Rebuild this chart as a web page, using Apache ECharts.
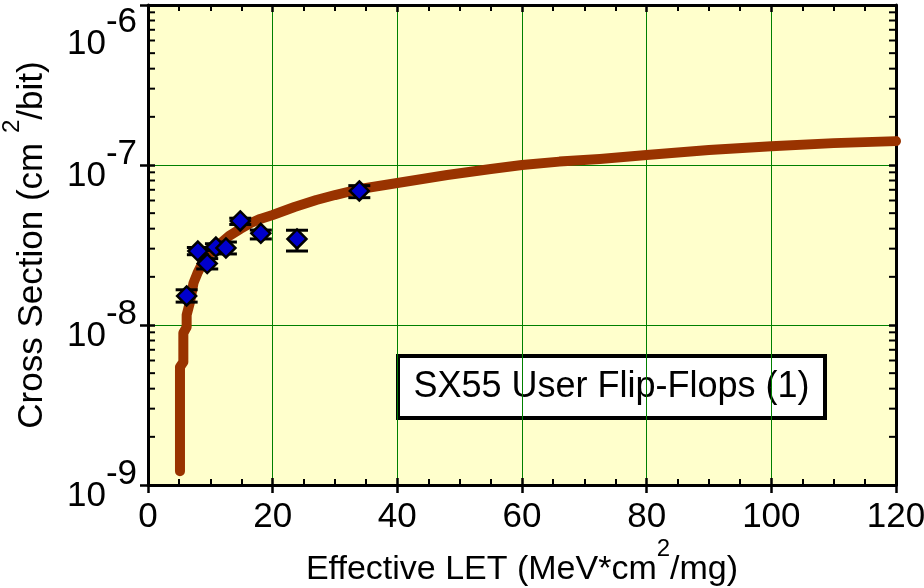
<!DOCTYPE html>
<html>
<head>
<meta charset="utf-8">
<script src="https://cdn.jsdelivr.net/npm/echarts@6/dist/echarts.min.js"></script>
<style>
  html, body { margin: 0; padding: 0; background: #ffffff; }
  #chart { width: 924px; height: 588px; }
</style>
</head>
<body>
<div id="chart"></div>
<script>
// Weibull fit curve (LET in MeV*cm2/mg, cross section in cm2/bit)
const fitLet = [5.13, 5.13, 5.67, 5.67, 6.2, 6.2, 6.7, 7.3, 8.0, 8.9, 10.0, 11.5, 13.0, 14.8, 16.5, 18.0, 20.0, 23.5, 27.0, 30.0, 34.0, 40.0, 48.0, 55.0, 60.0, 66.0, 72.5, 80.0, 90.0, 100.0, 110.0, 120.0];
const fitSigma = [1.22e-9, 5.46e-9, 5.87e-9, 8.91e-9, 9.71e-9, 1.155e-8, 1.372e-8, 1.83e-8, 2.14e-8, 2.51e-8, 2.82e-8, 3.21e-8, 3.60e-8, 3.98e-8, 4.34e-8, 4.60e-8, 4.87e-8, 5.46e-8, 6.04e-8, 6.49e-8, 7.08e-8, 7.72e-8, 8.66e-8, 9.44e-8, 1.0e-7, 1.05e-7, 1.09e-7, 1.155e-7, 1.24e-7, 1.31e-7, 1.37e-7, 1.41e-7];

// Measured points with error bars
const measLet = [6.2, 8.0, 9.5, 10.9, 12.5, 14.8, 18.1, 23.9, 33.9];
const measSigma = [1.52e-8, 2.90e-8, 2.42e-8, 3.07e-8, 3.03e-8, 4.47e-8, 3.74e-8, 3.45e-8, 6.88e-8];
const measLow = [1.39e-8, 2.75e-8, 2.24e-8, 2.92e-8, 2.78e-8, 4.25e-8, 3.45e-8, 2.90e-8, 6.25e-8];
const measHigh = [1.66e-8, 3.05e-8, 2.60e-8, 3.22e-8, 3.30e-8, 4.65e-8, 3.92e-8, 3.91e-8, 7.43e-8];

// Axis settings
const xMin = 0, xMax = 120, xStep = 20;
const yExponents = [-9, -8, -7, -6];
const logMinorSteps = [2, 3, 4, 5, 6, 7, 8, 9];

const FONT = "'Liberation Sans', Arial, sans-serif";
const yMin = Math.pow(10, yExponents[0]);
const yMax = Math.pow(10, yExponents[yExponents.length - 1]);

// log-axis minor tick values (2..9 per decade)
const minorTickVals = [];
for (let i = 0; i < yExponents.length - 1; i++) {
  for (const m of logMinorSteps) minorTickVals.push([xMin, m * Math.pow(10, yExponents[i])]);
}

const chart = echarts.init(document.getElementById('chart'), null, { renderer: 'canvas' });

const baseX = {
  type: 'value', min: xMin, max: xMax, interval: xStep,
  axisLabel: { show: false }, splitLine: { show: false },
  axisLine: { show: false }, axisTick: { show: false }
};
const baseY = {
  type: 'log', logBase: 10, min: yMin, max: yMax,
  axisLabel: { show: false }, splitLine: { show: false },
  axisLine: { show: false }, axisTick: { show: false }
};

const option = {
  animation: false,
  backgroundColor: '#ffffff',
  textStyle: { fontFamily: FONT },
  grid: {
    left: 148, right: 28, top: 5, bottom: 103,
    outerBoundsMode: 'none', containLabel: false,
    show: true, backgroundColor: '#FFFFCC', borderWidth: 0
  },
  xAxis: [
    Object.assign({}, baseX, {
      position: 'bottom',
      axisLine: { show: true, onZero: false, lineStyle: { color: '#000', width: 3 } },
      axisTick: { show: true, inside: false, length: 8, lineStyle: { color: '#000', width: 2.5 } },
      axisLabel: { show: true, margin: 15, color: '#000', fontSize: 35, fontFamily: FONT },
      splitLine: { show: true, lineStyle: { color: '#008000', width: 1 } },
      name: '{t|Effective LET (MeV*cm}{s|2}{t|/mg)}',
      nameLocation: 'middle', nameGap: 52, nameMoveOverlap: false,
      nameTextStyle: {
        color: '#000', fontFamily: FONT, fontSize: 34,
        rich: {
          t: { fontSize: 34, lineHeight: 50, verticalAlign: 'bottom', color: '#000', fontFamily: FONT },
          s: { fontSize: 24, lineHeight: 50, verticalAlign: 'top', color: '#000', fontFamily: FONT }
        }
      }
    }),
    Object.assign({}, baseX, {
      position: 'bottom',
      axisTick: { show: true, inside: true, length: 7, lineStyle: { color: '#000', width: 2.5 } },
      minorTick: { show: true, splitNumber: 4, length: 6, lineStyle: { color: '#000', width: 2 } }
    }),
    Object.assign({}, baseX, {
      position: 'top',
      axisLine: { show: true, onZero: false, lineStyle: { color: '#000', width: 3 } },
      axisTick: { show: true, inside: true, length: 7, lineStyle: { color: '#000', width: 2.5 } },
      minorTick: { show: true, splitNumber: 4, length: 6, lineStyle: { color: '#000', width: 2 } }
    })
  ],
  yAxis: [
    Object.assign({}, baseY, {
      position: 'left',
      axisLine: { show: true, onZero: false, lineStyle: { color: '#000', width: 3 } },
      axisTick: { show: true, inside: false, length: 8, lineStyle: { color: '#000', width: 2.5 } },
      axisLabel: {
        show: true, margin: 11, color: '#000', fontFamily: FONT,
        formatter: function (v) {
          const e = Math.round(Math.log10(v));
          const body = '{b|10}{s|' + e + '}';
          return e === yExponents[yExponents.length - 1] ? '{g| }\n' + body : body;
        },
        rich: {
          b: { fontSize: 35, lineHeight: 57, verticalAlign: 'bottom', color: '#000', fontFamily: FONT },
          s: { fontSize: 35, lineHeight: 57, verticalAlign: 'top', color: '#000', fontFamily: FONT },
          g: { fontSize: 10, lineHeight: 57 }
        }
      },
      splitLine: { show: true, lineStyle: { color: '#008000', width: 1 } },
      name: '{t|Cross Section (cm }{s|2}{t|/bit)}',
      nameLocation: 'middle', nameRotate: 90, nameGap: 98, nameMoveOverlap: false,
      nameTextStyle: {
        color: '#000', fontFamily: FONT, fontSize: 35,
        rich: {
          t: { fontSize: 35, lineHeight: 50, verticalAlign: 'bottom', color: '#000', fontFamily: FONT },
          s: { fontSize: 24, lineHeight: 50, verticalAlign: 'top', color: '#000', fontFamily: FONT }
        }
      }
    }),
    Object.assign({}, baseY, {
      position: 'left',
      axisTick: { show: true, inside: true, length: 7, lineStyle: { color: '#000', width: 2.5 } }
    }),
    Object.assign({}, baseY, {
      position: 'right',
      axisLine: { show: true, onZero: false, lineStyle: { color: '#000', width: 3 } },
      axisTick: { show: true, inside: true, length: 7, lineStyle: { color: '#000', width: 2.5 } }
    })
  ],
  series: [
    {
      // log minor ticks on left and right frame edges
      type: 'custom', xAxisIndex: 0, yAxisIndex: 0, clip: false, silent: true, z: 1,
      data: minorTickVals,
      renderItem: function (params, api) {
        const pl = api.coord([xMin, api.value(1)]);
        const pr = api.coord([xMax, api.value(1)]);
        const st = { stroke: '#000', lineWidth: 2 };
        return {
          type: 'group', children: [
            { type: 'line', shape: { x1: pl[0], y1: pl[1], x2: pl[0] + 7, y2: pl[1] }, style: st },
            { type: 'line', shape: { x1: pr[0] - 7, y1: pr[1], x2: pr[0], y2: pr[1] }, style: st }
          ]
        };
      }
    },
    {
      type: 'line', xAxisIndex: 0, yAxisIndex: 0, clip: false, z: 2,
      data: fitLet.map((x, i) => [x, fitSigma[i]]),
      showSymbol: false, symbol: 'none', smooth: false,
      lineStyle: { color: '#993300', width: 10, cap: 'round', join: 'round' }
    },
    {
      type: 'custom', xAxisIndex: 0, yAxisIndex: 0, z: 3,
      data: measLet.map((x, i) => [x, measLow[i], measHigh[i]]),
      renderItem: function (params, api) {
        const lo = api.coord([api.value(0), api.value(1)]);
        const hi = api.coord([api.value(0), api.value(2)]);
        const w = 11;
        const st = { stroke: '#000', lineWidth: 3 };
        return {
          type: 'group', children: [
            { type: 'line', shape: { x1: lo[0], y1: lo[1], x2: hi[0], y2: hi[1] }, style: st },
            { type: 'line', shape: { x1: lo[0] - w, y1: lo[1], x2: lo[0] + w, y2: lo[1] }, style: st },
            { type: 'line', shape: { x1: hi[0] - w, y1: hi[1], x2: hi[0] + w, y2: hi[1] }, style: st }
          ]
        };
      }
    },
    {
      type: 'scatter', xAxisIndex: 0, yAxisIndex: 0, z: 4,
      data: measLet.map((x, i) => [x, measSigma[i]]),
      symbol: 'diamond', symbolSize: 19,
      itemStyle: { color: '#0000CC', borderColor: '#000', borderWidth: 2.5, opacity: 1 }
    }
  ],
  graphic: [
    {
      type: 'group', left: 396, top: 354, z: 10,
      children: [
        { type: 'rect', shape: { x: 0, y: 0, width: 427, height: 62 }, style: { fill: '#ffffff', stroke: '#000', lineWidth: 4 } },
        { type: 'text', x: 213.5, y: 31, style: { text: 'SX55 User Flip-Flops (1)', fontSize: 36, fontFamily: FONT, fill: '#000', align: 'center', verticalAlign: 'middle' } }
      ]
    }
  ]
};

chart.setOption(option);
</script>
</body>
</html>
